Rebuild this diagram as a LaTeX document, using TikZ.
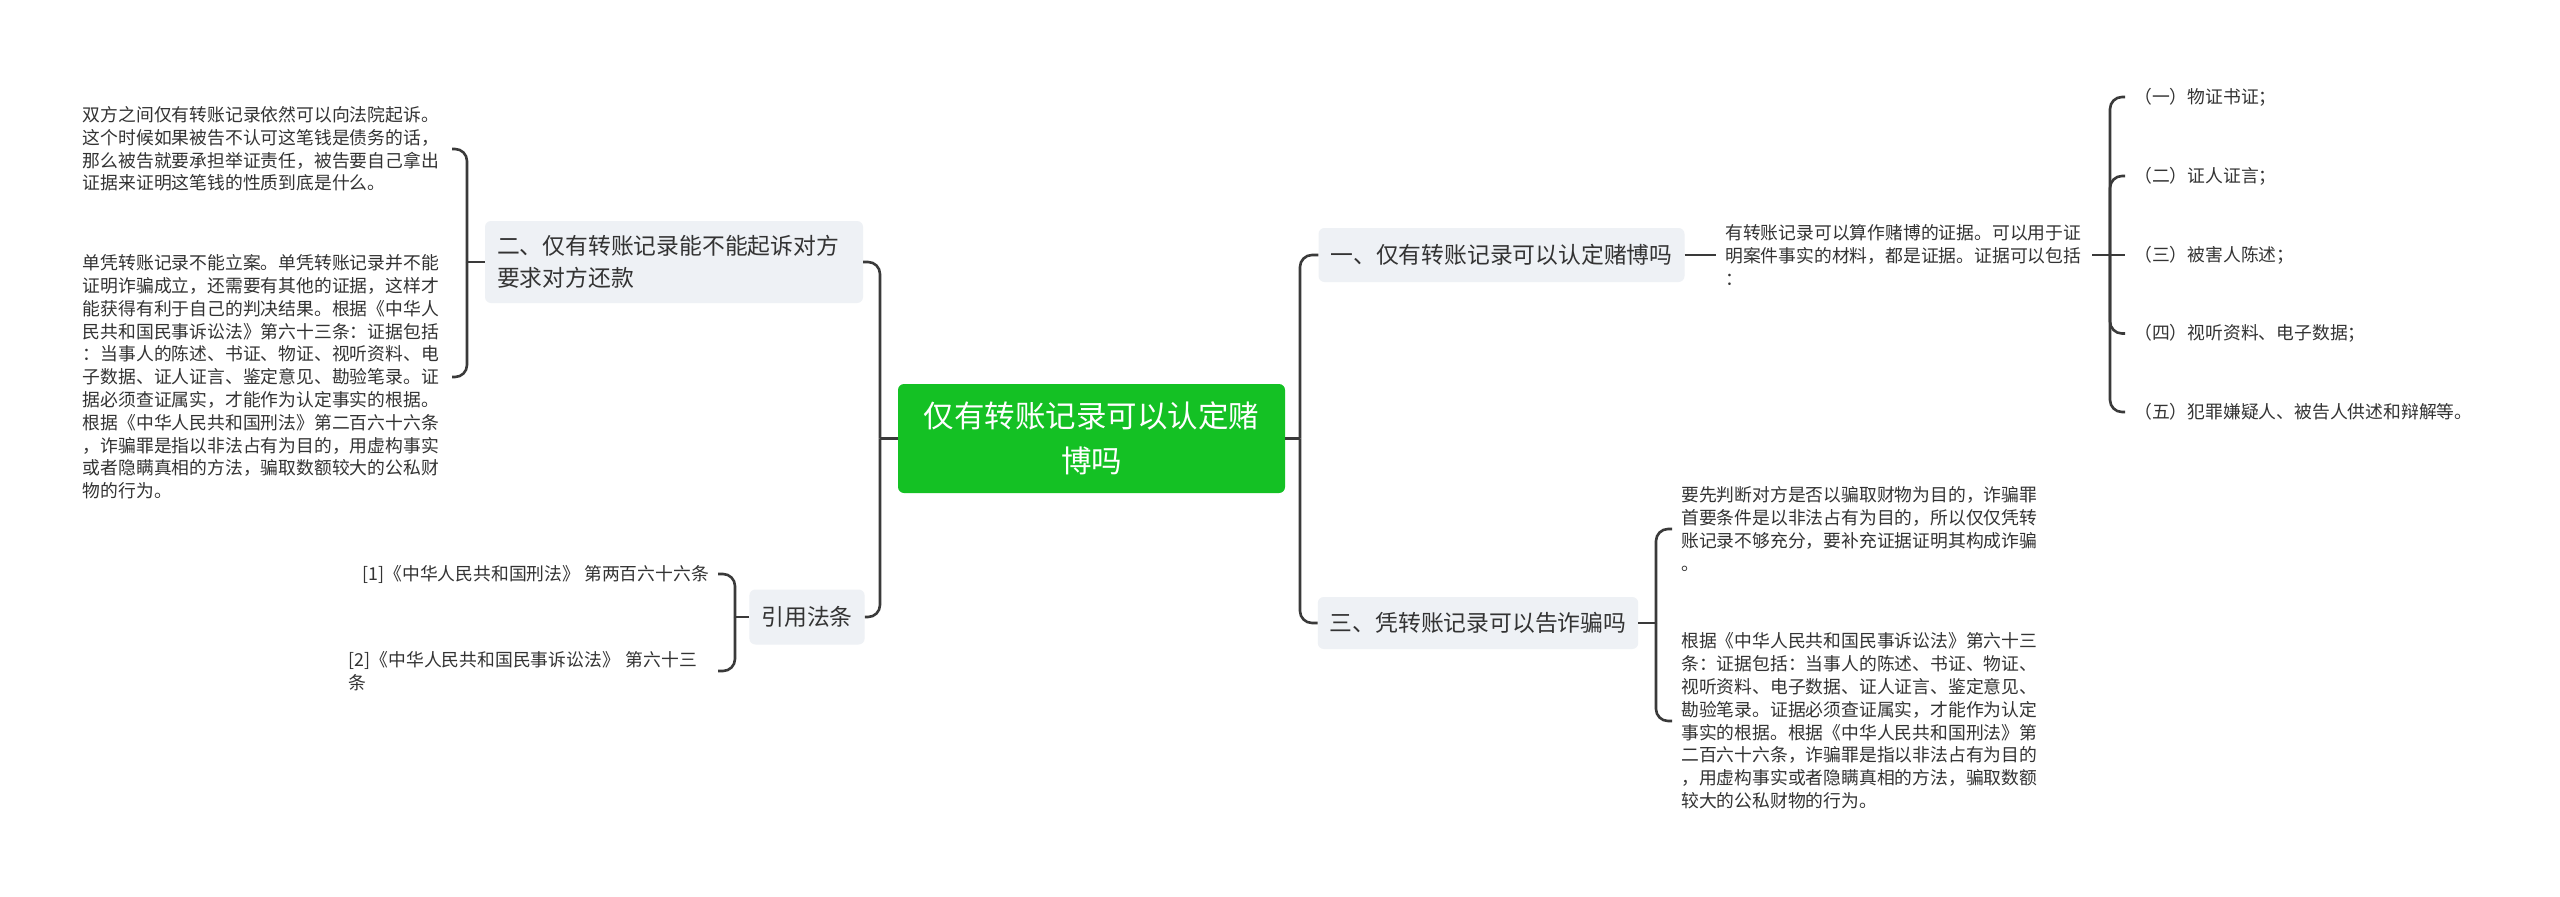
\documentclass[tikz,border=0pt]{standalone}
\usepackage{fontspec}
\setmainfont{Noto Sans CJK SC}
\definecolor{rootgreen}{HTML}{14C124}
\definecolor{topicbg}{HTML}{EEF1F5}
\definecolor{ink}{HTML}{333333}
\definecolor{wirec}{HTML}{3A3A3A}
\tikzset{
  rootbox/.style={fill=rootgreen, rounded corners=6pt, text=white,
    font=\fontsize{30.5}{45}\selectfont, align=center,
    minimum width=387pt, minimum height=109pt, inner sep=0pt},
  topic/.style={fill=topicbg, rounded corners=6pt, text=ink,
    font=\fontsize{22.8}{32}\selectfont, inner xsep=12pt, inner ysep=0pt,
    minimum height=54pt},
  leaf/.style={text=ink, font=\fontsize{17.8}{22.8}\selectfont,
    inner xsep=9pt, inner ysep=2pt, align=left},
  wire/.style={draw=wirec, line width=2.6pt, rounded corners=12pt},
}
\begin{document}
\begin{tikzpicture}[x=1pt,y=-1pt]
\useasboundingbox[fill=white] (0,0) rectangle (2560,897);

% root
\node[rootbox] (root) at (1091.5,438.5) {仅有转账记录可以认定赌\\博吗};

% topics
\node[topic, text width=354pt, align=left, minimum height=82pt] (n2) at (674,262)
  {二、仅有转账记录能不能起诉对方\\要求对方还款};
\node[topic, minimum height=55pt] (ref) at (807,617) {引用法条};
\node[topic] (n1) at (1501.5,255) {一、仅有转账记录可以认定赌博吗};
\node[topic, minimum height=52pt] (n3) at (1478,623) {三、凭转账记录可以告诈骗吗};

% left leaves
\node[leaf, text width=360pt, anchor=east] (a1) at (452,149)
  {双方之间仅有转账记录依然可以向法院起诉。\\
   这个时候如果被告不认可这笔钱是债务的话，\\
   那么被告就要承担举证责任，被告要自己拿出\\
   证据来证明这笔钱的性质到底是什么。};
\node[leaf, text width=360pt, anchor=east] (a2) at (452,377)
  {单凭转账记录不能立案。单凭转账记录并不能\\
   证明诈骗成立，还需要有其他的证据，这样才\\
   能获得有利于自己的判决结果。根据《中华人\\
   民共和国民事诉讼法》第六十三条：证据包括\\
   ：当事人的陈述、书证、物证、视听资料、电\\
   子数据、证人证言、鉴定意见、勘验笔录。证\\
   据必须查证属实，才能作为认定事实的根据。\\
   根据《中华人民共和国刑法》第二百六十六条\\
   ，诈骗罪是指以非法占有为目的，用虚构事实\\
   或者隐瞒真相的方法，骗取数额较大的公私财\\
   物的行为。};
\node[leaf, anchor=east] (r1) at (718,574) {[1]《中华人民共和国刑法》 第两百六十六条};
\node[leaf, text width=360pt, anchor=east] (r2) at (718,671)
  {[2]《中华人民共和国民事诉讼法》 第六十三\\条};

% right leaves
\node[leaf, text width=358pt, anchor=west] (b0) at (1716,255)
  {有转账记录可以算作赌博的证据。可以用于证\\
   明案件事实的材料，都是证据。证据可以包括\\
   ：};
\node[leaf, anchor=west] (c1) at (2125,97) {（一）物证书证；};
\node[leaf, anchor=west] (c2) at (2125,176) {（二）证人证言；};
\node[leaf, anchor=west] (c3) at (2125,255) {（三）被害人陈述；};
\node[leaf, anchor=west] (c4) at (2125,333.5) {（四）视听资料、电子数据；};
\node[leaf, anchor=west] (c5) at (2125,412) {（五）犯罪嫌疑人、被告人供述和辩解等。};

\node[leaf, text width=358pt, anchor=west] (d1) at (1672,529)
  {要先判断对方是否以骗取财物为目的，诈骗罪\\
   首要条件是以非法占有为目的，所以仅仅凭转\\
   账记录不够充分，要补充证据证明其构成诈骗\\
   。};
\node[leaf, text width=358pt, anchor=west] (d2) at (1672,721)
  {根据《中华人民共和国民事诉讼法》第六十三\\
   条：证据包括：当事人的陈述、书证、物证、\\
   视听资料、电子数据、证人证言、鉴定意见、\\
   勘验笔录。证据必须查证属实，才能作为认定\\
   事实的根据。根据《中华人民共和国刑法》第\\
   二百六十六条，诈骗罪是指以非法占有为目的\\
   ，用虚构事实或者隐瞒真相的方法，骗取数额\\
   较大的公私财物的行为。};

% junctions
\coordinate (jL) at (880,438.5);
\coordinate (jA) at (467,262);
\coordinate (jR) at (735,617);
\coordinate (jRt) at (1300,438.5);
\coordinate (jB) at (2110,255);
\coordinate (jD) at (1656,623);

% connectors
\draw[wire] (root.west) -- (jL);
\draw[wire] (jL) |- (n2.east);
\draw[wire] (jL) |- (ref.east);

\draw[wire] (n2.west) -- (jA);
\draw[wire] (jA) |- (a1.east);
\draw[wire] (jA) |- (a2.east);

\draw[wire] (ref.west) -- (jR);
\draw[wire] (jR) |- (r1.east);
\draw[wire] (jR) |- (r2.east);

\draw[wire] (root.east) -- (jRt);
\draw[wire] (jRt) |- (n1.west);
\draw[wire] (jRt) |- (n3.west);

\draw[wire] (n1.east) -- (b0.west);

\draw[wire] (b0.east) -- (jB);
\draw[wire] (jB) |- (c1.west);
\draw[wire] (jB) |- (c2.west);
\draw[wire] (jB) -- (c3.west);
\draw[wire] (jB) |- (c4.west);
\draw[wire] (jB) |- (c5.west);

\draw[wire] (n3.east) -- (jD);
\draw[wire] (jD) |- (d1.west);
\draw[wire] (jD) |- (d2.west);
\end{tikzpicture}
\end{document}
